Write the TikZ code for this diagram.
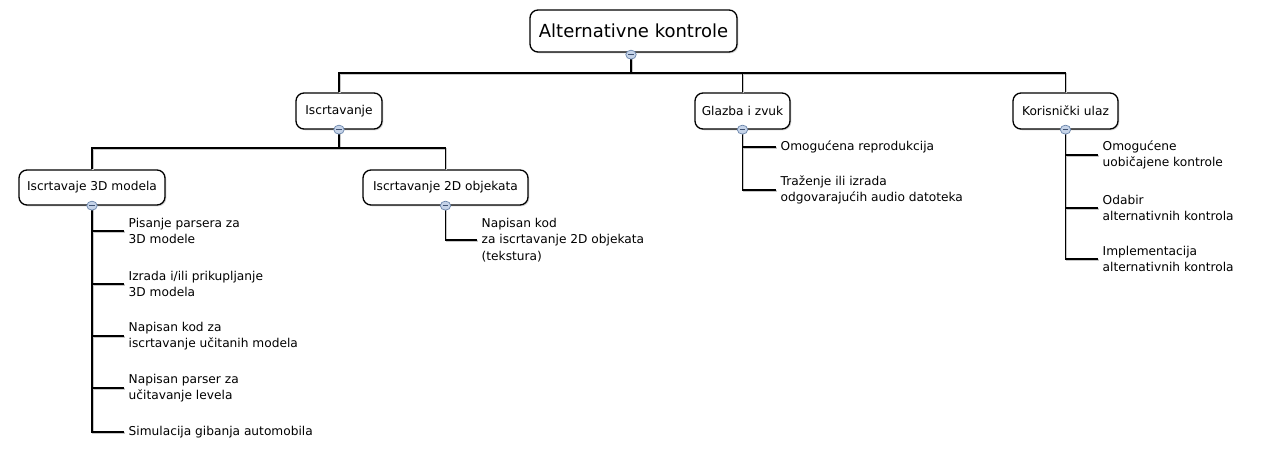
\documentclass[tikz,border=0pt]{standalone}
\usepackage{fontspec}
\setmainfont{DejaVu Sans}
\usetikzlibrary{shadows,shapes.geometric}

\definecolor{markfill}{HTML}{C5D3E8}
\definecolor{markdraw}{HTML}{6A85AB}
\definecolor{markdash}{HTML}{3F5273}

\tikzset{
  topic/.style={draw, line width=1.3pt, rounded corners=8pt, fill=white,
    inner xsep=6.5pt, minimum height=36pt, font=\fontsize{12.2}{14}\selectfont,
    drop shadow={shadow xshift=1.3pt, shadow yshift=-1.3pt, opacity=0.3}},
  roottopic/.style={topic, minimum height=42pt, inner xsep=6pt, font=\fontsize{18}{20}\selectfont},
  leaf/.style={anchor=west, align=left, inner xsep=4.5pt, inner ysep=1pt,
    font=\fontsize{12.2}{16.5}\selectfont},
  conn/.style={line width=1.7pt,
    preaction={draw=black!22, line width=1.7pt, transform canvas={shift={(0.9pt,-0.9pt)}}}},
  collapse/.style={ellipse, draw=markdraw, fill=markfill, line width=0.7pt,
    inner sep=0pt, minimum width=10.5pt, minimum height=9pt,
    path picture={\draw[markdash, line width=1.1pt]
      ([xshift=-2.8pt]path picture bounding box.center) --
      ([xshift=2.8pt]path picture bounding box.center);}}
}

\begin{document}
\begin{tikzpicture}[x=1pt,y=-1pt]
\useasboundingbox[fill=white] (0,0) rectangle (1264,470);

% main topics
\node[roottopic, minimum width=207pt] (root) at (633.5,31) {Alternativne kontrole};
\node[topic, minimum width=86pt] (isc) at (339,111) {Iscrtavanje};
\node[topic, minimum width=95pt] (glz) at (742.5,111) {Glazba i zvuk};
\node[topic, minimum width=105pt] (kor) at (1065.5,111) {Korisnički ulaz};
\node[topic, minimum height=35pt, minimum width=146pt] (m3d) at (92,187.5) {Iscrtavaje 3D modela};
\node[topic, minimum height=35pt, minimum width=165pt] (o2d) at (445.5,187.5) {Iscrtavanje 2D objekata};

% leaves
\node[leaf] (l3a) at (124,231) {Pisanje parsera za\\3D modele};
\node[leaf] (l3b) at (124,284) {Izrada i/ili prikupljanje\\3D modela};
\node[leaf] (l3c) at (124,336) {Napisan kod za\\iscrtavanje učitanih modela};
\node[leaf] (l3d) at (124,388) {Napisan parser za\\učitavanje levela};
\node[leaf] (l3e) at (124,432) {Simulacija gibanja automobila};
\node[leaf] (l2a) at (477,240) {Napisan kod\\za iscrtavanje 2D objekata\\(tekstura)};
\node[leaf] (lga) at (776,147) {Omogućena reprodukcija};
\node[leaf] (lgb) at (776,190) {Traženje ili izrada\\odgovarajućih audio datoteka};
\node[leaf] (lka) at (1098,155) {Omogućene\\uobičajene kontrole};
\node[leaf] (lkb) at (1098,208) {Odabir\\alternativnih kontrola};
\node[leaf] (lkc) at (1098,259) {Implementacija\\alternativnih kontrola};

\coordinate (bar1) at (631,73);
\coordinate (bar2) at (339,148);

% connectors
\draw[conn] (root.south -| bar1) -- (bar1);
\draw[conn] (isc.north) |- (bar1) -| (kor.north);
\draw[conn] (glz.north) -- (glz.north |- bar1);
\draw[conn] (isc.south) -- (bar2);
\draw[conn] (m3d.north) |- (bar2) -| (o2d.north);
\draw[conn] (m3d.south) |- (l3e.west);
\foreach \leafname in {l3a,l3b,l3c,l3d}
  \draw[conn] (m3d.south |- \leafname.west) -- (\leafname.west);
\draw[conn] (o2d.south) |- (l2a.west);
\draw[conn] (glz.south) |- (lgb.west);
\draw[conn] (glz.south |- lga.west) -- (lga.west);
\draw[conn] (kor.south) |- (lkc.west);
\foreach \leafname in {lka,lkb}
  \draw[conn] (kor.south |- \leafname.west) -- (\leafname.west);

% collapse markers
\node[collapse] (rootmk) at ([yshift=-2pt]root.south -| bar1) {};
\node[collapse] (iscmk) at (isc.south) {};
\node[collapse] (glzmk) at (glz.south) {};
\node[collapse] (kormk) at (kor.south) {};
\node[collapse] (m3dmk) at (m3d.south) {};
\node[collapse] (o2dmk) at (o2d.south) {};
\end{tikzpicture}
\end{document}
